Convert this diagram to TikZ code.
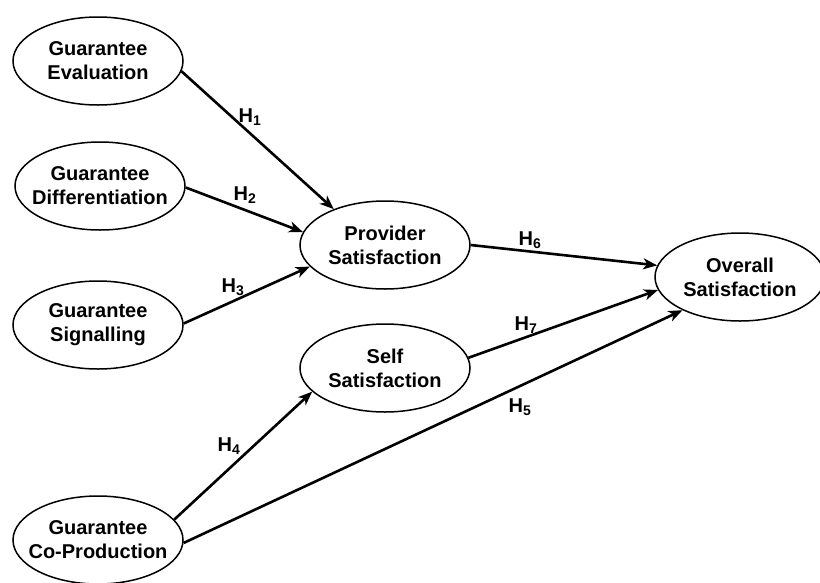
\documentclass[tikz,border=0pt]{standalone}
\usepackage{fontspec}
\setmainfont{Liberation Sans}
\usetikzlibrary{shapes.geometric,arrows.meta}

\tikzset{
  construct/.style={ellipse, draw, line width=1.5pt, minimum width=170pt, minimum height=88pt,
    inner xsep=-12pt, inner ysep=0pt, align=center, font=\fontsize{20}{24}\selectfont\bfseries},
  path/.style={line width=2.6pt, -{Stealth[length=14pt,width=11pt,inset=4pt]}},
  hyp/.style={font=\fontsize{20}{22}\selectfont\bfseries, inner sep=0pt}
}
\newcommand{\hyp}[1]{H\textsubscript{#1}}

\begin{document}
\begin{tikzpicture}[x=1pt,y=-1pt]
\useasboundingbox (0,0) rectangle (820,582);
% antecedents
\node[construct] (eval) at (98,61) {Guarantee\\Evaluation};
\node[construct] (diff) at (100,186) {Guarantee\\Differentiation};
\node[construct] (sign) at (98,325) {Guarantee\\Signalling};
\node[construct] (coprod) at (98,540) {Guarantee\\Co-Production};
% mediators
\node[construct] (provider) at (385,245) {Provider\\Satisfaction};
\node[construct] (self) at (385,368) {Self\\Satisfaction};
% outcome
\node[construct] (overall) at (740,277) {Overall\\Satisfaction};

\draw[path] (eval.-7) -- (provider.145);
\draw[path] (diff.-1) -- (provider.171);
\draw[path] (sign.1) -- (provider.196);
\draw[path] (coprod.15) -- (self.198);
\draw[path] (coprod.-2) -- (overall.210);
\draw[path] (provider.east) -- (overall.172);
\draw[path] (self.7) -- (overall.189);

\node[hyp] (h1) at (250,117) {\hyp{1}};
\node[hyp] (h2) at (245,195) {\hyp{2}};
\node[hyp] (h3) at (233,287) {\hyp{3}};
\node[hyp] (h4) at (229,446) {\hyp{4}};
\node[hyp] (h5) at (520,407) {\hyp{5}};
\node[hyp] (h6) at (530,240) {\hyp{6}};
\node[hyp] (h7) at (526,325) {\hyp{7}};
\end{tikzpicture}
\end{document}
